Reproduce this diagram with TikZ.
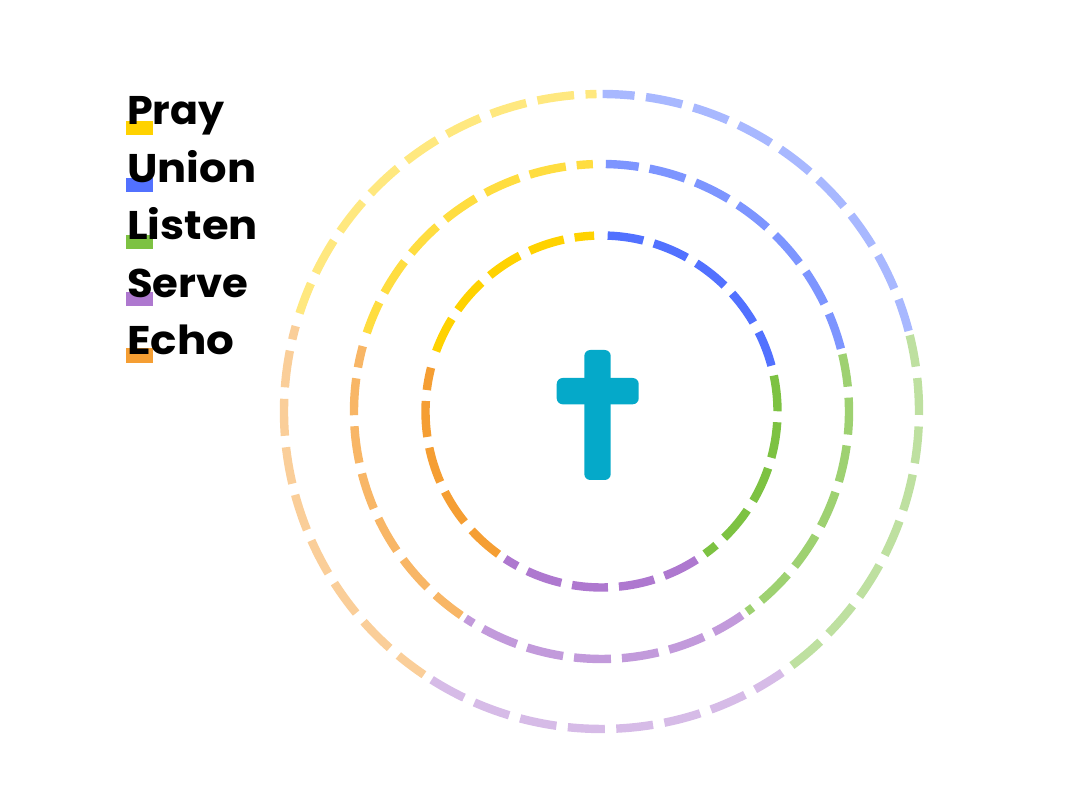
\documentclass[tikz,border=0pt]{standalone}
\usepackage{fontspec}
\setmainfont{Poppins}[BoldFont={Poppins Bold}]
\definecolor{cyellow}{HTML}{FFD200}
\definecolor{cblue}{HTML}{5271FF}
\definecolor{cgreen}{HTML}{7DC242}
\definecolor{cpurple}{HTML}{AE78CF}
\definecolor{corange}{HTML}{F59E33}
\definecolor{ccross}{HTML}{05A9C9}
\tikzset{
  legendkey/.style={fill=#1,draw=none},
  legendtext/.style={anchor=base west,inner sep=0pt,font=\fontsize{40}{40}\selectfont\bfseries,text=black},
  ringarc/.style={line width=8.4pt,line cap=butt},
}
% colour, opacity, radius, start, end, dash, gap, phase
\newcommand{\ringseg}[8]{\draw[ringarc,draw=#1,draw opacity=#2,dash pattern=on #6pt off #7pt,dash phase=#8pt] (centre)++(#4:#3pt) arc[start angle=#4,end angle=#5,radius=#3pt];}
\newcommand{\legendword}[2]{\scalebox{#1}[1]{#2}}
\begin{document}
\begin{tikzpicture}[x=1pt,y=1pt]
\useasboundingbox (0,0) rectangle (1087,811);
\coordinate (centre) at (601.5,399.5);
% outer ring
\ringseg{cblue}{0.5}{317.5}{89.8}{14.7}{37}{11.5}{5}
\ringseg{cgreen}{0.5}{317.5}{13.9}{-53.3}{37}{11.5}{5}
\ringseg{cpurple}{0.5}{317.5}{-55.3}{-122.5}{37}{11.5}{5}
\ringseg{corange}{0.5}{317.5}{-124}{-195.6}{37}{11.5}{5}
\ringseg{cyellow}{0.5}{317.5}{-198}{-269.1}{37}{11.5}{5}
% middle ring
\ringseg{cblue}{0.75}{247.5}{89}{14.5}{37}{11}{4}
\ringseg{cgreen}{0.75}{247.5}{13.4}{-54}{37}{11}{4}
\ringseg{cpurple}{0.75}{247.5}{-55.4}{-123.3}{37}{11}{4}
\ringseg{corange}{0.75}{247.5}{-124.5}{-195.3}{37}{11}{4}
\ringseg{cyellow}{0.75}{247.5}{-198.5}{-268}{37}{11}{4}
% inner ring
\ringseg{cblue}{1}{176}{88}{14.6}{36}{11}{0}
\ringseg{cgreen}{1}{176}{11.8}{-54}{36}{11}{0}
\ringseg{cpurple}{1}{176}{-57.3}{-123.2}{36}{11}{0}
\ringseg{corange}{1}{176}{-125.8}{-194.4}{36}{11}{0}
\ringseg{cyellow}{1}{176}{-200}{-267.6}{36}{11}{0}
% cross
\fill[ccross,rounded corners=6pt] (584.3,331) rectangle (610.7,461);
\fill[ccross,rounded corners=6pt] (556.7,406.7) rectangle (638.7,433);
% legend
\fill[legendkey=cyellow] (126,676) rectangle (153,690);
\fill[legendkey=cblue] (126,619) rectangle (153,633);
\fill[legendkey=cgreen] (126,562) rectangle (153,576);
\fill[legendkey=cpurple] (126,505) rectangle (153,519.3);
\fill[legendkey=corange] (126,448) rectangle (153,463);
\node[legendtext] (pray) at (127,686) {\legendword{1.03}{Pray}};
\node[legendtext] (union) at (127,628.5) {\legendword{1.08}{Union}};
\node[legendtext] (listen) at (127,571) {\legendword{1.08}{Listen}};
\node[legendtext] (serve) at (127,513) {\legendword{1.045}{Serve}};
\node[legendtext] (echo) at (127,456) {\legendword{1.09}{Echo}};
\end{tikzpicture}
\end{document}
